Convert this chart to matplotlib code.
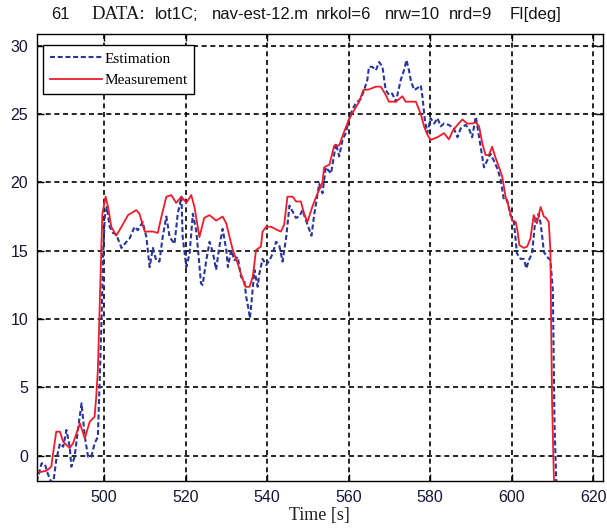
import matplotlib
matplotlib.use("Agg")
import matplotlib.pyplot as plt

# Measurement (red, solid)
t_meas = [483.5, 483.6, 485.9, 487.1, 487.4, 488.3, 489.2, 490.0, 491.6, 492.4, 494.1,
          495.3, 496.5, 497.7, 498.1, 498.5, 498.9, 499.2, 499.6, 500.4, 501.0, 501.8,
          503.0, 504.3, 505.9, 507.9, 508.7, 510.0, 512.0, 513.2, 514.1, 515.3, 516.5,
          517.7, 519.0, 520.2, 521.4, 522.2, 523.4, 524.6, 525.9, 527.5, 529.1, 530.0,
          530.8, 531.6, 532.8, 533.6, 534.7, 535.7, 536.5, 537.3, 538.5, 538.9, 539.8,
          541.0, 542.6, 543.4, 544.2, 545.0, 546.3, 547.1, 548.3, 549.1, 549.9, 551.2,
          552.4, 553.6, 554.0, 555.3, 556.5, 557.7, 558.9, 560.1, 561.4, 562.6, 563.6,
          565.0, 566.7, 567.9, 569.1, 569.9, 571.6, 573.2, 574.0, 576.5, 577.7, 578.5,
          579.3, 580.1, 581.8, 583.4, 584.6, 585.6, 586.7, 587.9, 589.1, 590.3, 591.2,
          592.0, 592.8, 593.6, 594.4, 595.2, 596.1, 596.9, 597.7, 598.5, 599.3, 600.1,
          601.0, 601.4, 601.9, 603.0, 603.8, 604.6, 605.4, 606.2, 607.1, 607.9, 608.4,
          609.1, 609.5, 609.7, 609.9, 610.3, 610.5]
y_meas = [-1.9, -1.24, -1.1, -0.8, -0.07, 1.76, 1.76, 1.02, 0.56, 0.9, 2.37,
          1.27, 2.49, 2.85, 4.3, 6.27, 10.4, 13.6, 17.7, 18.95, 18.2, 16.75,
          16.1, 16.75, 17.6, 17.97, 17.7, 16.4, 16.4, 16.3, 17.5, 18.95, 19.07,
          18.5, 18.95, 18.5, 19.07, 18.2, 16.0, 17.4, 17.6, 17.2, 17.5, 17.0,
          16.0, 15.05, 14.07, 13.3, 12.36, 12.36, 13.1, 15.05, 15.3, 16.4, 16.75,
          16.75, 16.5, 16.4, 16.9, 18.95, 18.95, 18.6, 18.6, 17.7, 17.1, 18.3,
          19.2, 20.0, 21.1, 21.3, 22.7, 22.7, 23.7, 24.6, 25.3, 25.9, 26.75,
          26.8, 27.0, 27.0, 26.4, 25.9, 25.9, 26.3, 25.9, 25.9, 25.0, 24.1,
          23.5, 23.1, 23.3, 23.6, 23.15, 23.8, 24.2, 24.6, 24.3, 24.3, 24.4,
          24.1, 22.85, 22.0, 22.0, 22.6, 21.75, 21.1, 20.4, 18.95, 18.2, 17.2,
          17.1, 16.5, 15.4, 15.2, 15.3, 15.9, 17.6, 17.0, 18.2, 17.5, 17.4,
          17.1, 15.05, 9.2, 4.07, -1.0, -3.0]

# Estimation (blue, dashed)
t_est = [483.5, 484.7, 485.5, 486.2, 487.0, 487.6, 488.3, 489.2, 490.0, 490.8, 491.6,
         492.0, 492.8, 493.6, 494.5, 495.3, 496.1, 496.9, 497.7, 498.5, 498.9, 499.4,
         499.8, 500.2, 500.7, 501.4, 502.2, 503.0, 504.3, 505.5, 506.3, 507.5, 508.3,
         509.5, 510.4, 511.2, 512.0, 512.8, 513.6, 514.4, 515.3, 516.1, 517.3, 518.1,
         519.0, 519.3, 520.2, 521.0, 521.8, 522.6, 523.0, 523.8, 524.2, 525.1, 525.9,
         526.7, 527.5, 528.3, 529.1, 530.0, 530.4, 531.2, 532.0, 532.8, 533.6, 534.4,
         534.9, 535.5, 535.8, 536.3, 536.9, 537.7, 538.1, 538.9, 539.8, 540.6, 541.4,
         542.2, 543.0, 543.8, 544.7, 545.5, 546.3, 547.1, 547.9, 548.7, 549.5, 550.4,
         550.9, 551.6, 552.4, 552.8, 553.6, 554.4, 555.7, 556.9, 557.7, 558.5, 559.3,
         560.1, 560.9, 561.8, 563.0, 563.8, 564.6, 565.0, 565.8, 566.7, 567.5, 568.3,
         569.1, 569.9, 570.7, 571.6, 572.8, 573.6, 574.2, 574.8, 575.3, 576.1, 576.9,
         577.7, 578.1, 578.7, 579.3, 580.1, 581.0, 581.8, 582.6, 583.4, 584.6, 585.8,
         586.7, 587.5, 588.7, 589.5, 590.3, 591.2, 592.4, 593.2, 594.0, 594.8, 595.6,
         596.5, 597.3, 598.1, 598.9, 599.7, 600.5, 601.3, 602.2, 603.0, 603.6, 604.2,
         605.0, 605.8, 606.6, 607.1, 607.5, 607.9, 608.7, 609.5, 610.1, 610.3, 610.5,
         610.9, 611.1]
y_est = [-1.9, -0.56, -0.6, -1.3, -1.9, -1.9, -0.3, 0.9, 0.66, 1.88, 0.66,
         -0.8, -0.07, 1.88, 3.83, 1.39, -0.07, -0.07, 0.9, 1.39, 5.05, 9.9,
         14.8, 17.5, 18.2, 16.75, 16.3, 16.2, 15.2, 15.65, 15.9, 16.75, 16.5,
         17.1, 16.0, 13.8, 15.2, 14.3, 14.2, 16.0, 17.5, 16.0, 15.5, 17.7,
         18.95, 16.0, 13.8, 14.8, 17.7, 16.5, 15.3, 12.6, 12.5, 14.3, 15.65,
         14.9, 13.6, 15.3, 16.6, 15.05, 13.8, 15.05, 14.3, 14.55, 13.1, 12.85,
         11.6, 10.66, 10.05, 11.6, 13.6, 12.36, 13.3, 14.4, 13.95, 14.3, 14.8,
         15.65, 15.4, 14.2, 16.0, 18.3, 17.85, 17.4, 17.5, 17.97, 17.25, 16.5,
         16.1, 17.7, 19.2, 19.9, 19.2, 21.1, 20.65, 22.85, 21.9, 23.1, 23.6,
         24.6, 25.3, 25.8, 26.1, 26.75, 27.5, 28.45, 28.45, 28.2, 28.8, 28.45,
         26.75, 26.4, 26.5, 25.9, 27.5, 28.2, 28.95, 28.2, 27.4, 26.75, 26.9,
         27.1, 26.3, 24.55, 23.6, 24.7, 24.3, 24.7, 24.1, 24.3, 24.2, 23.95,
         23.3, 23.95, 24.2, 23.95, 23.3, 24.8, 22.6, 21.1, 21.6, 22.1, 21.6,
         21.0, 20.2, 18.7, 18.7, 17.6, 17.25, 14.8, 14.4, 14.4, 13.7, 14.3,
         14.8, 17.25, 17.7, 17.0, 16.0, 14.9, 14.55, 14.3, 12.1, 7.2, 2.4,
         -1.5, -3.0]

x_ticks = [500, 520, 540, 560, 580, 600, 620]
y_ticks = [0, 5, 10, 15, 20, 25, 30]

W, H = 607, 530
fig = plt.figure(figsize=(W / 100, H / 100), dpi=100)
ax = fig.add_axes([36.7 / W, 1 - 481.3 / H, (603 - 36.7) / W, (481.3 - 34.3) / H])

ax.plot(t_est, y_est, color='#28359a', lw=1.5, dashes=(2.4, 1.3), label='Estimation')
ax.plot(t_meas, y_meas, color='#ee1c2b', lw=1.3, label='Measurement')

ax.set_xlim(483.5, 622.4)
ax.set_ylim(-1.87, 30.83)
ax.set_xticks(x_ticks)
ax.set_yticks(y_ticks)

ax.grid(True, color='black', lw=1.2, dashes=(3, 2.2))
ax.tick_params(direction='in', top=True, right=True, length=5, width=1,
               labelsize=11.5, labelcolor='#15153a', pad=6)
for lab in ax.get_xticklabels() + ax.get_yticklabels():
    lab.set_family('Liberation Sans')
for s in ax.spines.values():
    s.set_linewidth(1.0)
    s.set_color('black')

ax.set_xlabel('Time [s]', family='Liberation Serif', fontsize=13, color='#202020', labelpad=2)

leg = ax.legend(loc='upper left', bbox_to_anchor=(0.011, 0.976), borderaxespad=0,
                prop={'family': 'Liberation Serif', 'size': 11}, handlelength=3.4,
                handletextpad=0.15, labelspacing=0.5, borderpad=0.45,
                fancybox=False, framealpha=1, edgecolor='black')
leg.get_frame().set_linewidth(1.0)

# title made of pieces, as in the original (mixed fonts)
title_parts = [(51, '61', 'Liberation Sans', 12),
               (91, 'DATA:', 'Liberation Serif', 13.5),
               (155, 'lot1C;', 'Liberation Sans', 12),
               (212, 'nav-est-12.m', 'Liberation Sans', 12),
               (316, 'nrkol=6', 'Liberation Sans', 12),
               (385, 'nrw=10', 'Liberation Sans', 12),
               (449, 'nrd=9', 'Liberation Sans', 12),
               (510, 'FI[deg]', 'Liberation Sans', 12)]
for px, txt, fam, fs in title_parts:
    fig.text(px / W, 1 - 19 / H, txt, family=fam, fontsize=fs, color='#151515',
             ha='left', va='baseline')

fig.savefig('out.png', dpi=100)
